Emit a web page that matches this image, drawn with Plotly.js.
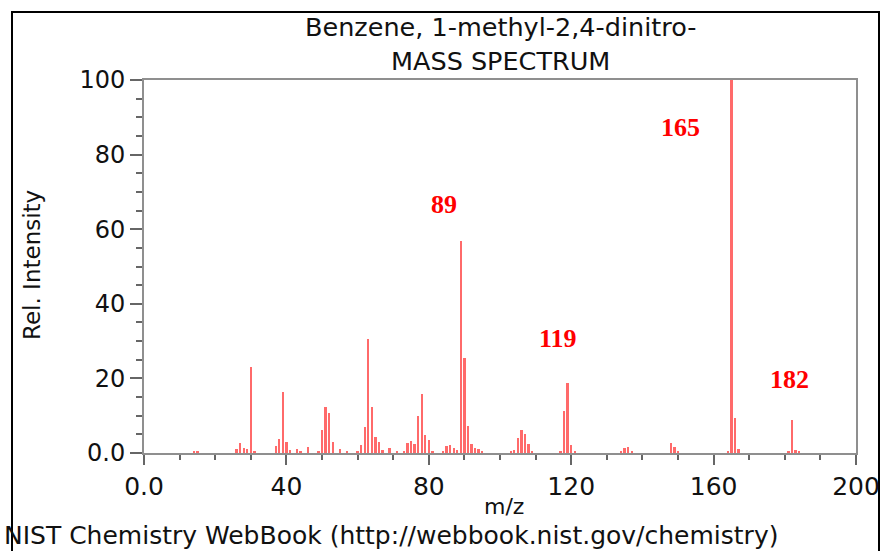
<!DOCTYPE html>
<html>
<head>
<meta charset="utf-8">
<script src="https://cdn.plot.ly/plotly-3.0.1.min.js"></script>
<style>
html,body{margin:0;padding:0;background:#fff;}
#chart{width:881px;height:551px;}
</style>
</head>
<body>
<div id="chart"></div>
<script>
// m/z values and relative intensities
const mz = [14, 15, 26, 27, 28, 29, 30, 31, 37, 38, 39, 40, 41, 43, 44, 46, 49, 50, 51, 52, 53, 55, 57, 60,
  61, 62, 63, 64, 65, 66, 67, 69, 71, 73, 74, 75, 76, 77, 78, 79, 80, 81, 84, 85, 86, 87, 88,
  89, 90, 91, 92, 93, 94, 95, 103, 104, 105, 106, 107, 108, 109, 117, 118, 119, 120, 121,
  134, 135, 136, 137, 148, 149, 150, 164, 165, 166, 167, 181, 182, 183, 184];
const intensity = [0.3, 0.5, 1.2, 2.7, 1.3, 1.1, 23.0, 0.6, 1.9, 3.7, 16.4, 3.0, 0.7, 1.2, 0.5, 1.5, 0.4, 6.2, 12.4, 10.8, 2.9, 1.2, 0.4, 0.5,
  2.1, 7.0, 30.5, 12.4, 4.3, 3.0, 0.8, 1.3, 0.5, 0.6, 2.7, 3.2, 2.4, 9.9, 15.7, 4.8, 3.4, 0.6, 0.5, 2.0, 2.1, 1.3, 0.8,
  56.9, 25.4, 7.3, 2.3, 1.3, 1.2, 0.5, 0.5, 0.8, 3.9, 6.2, 5.1, 2.4, 0.5, 0.4, 11.3, 18.9, 2.1, 0.5,
  0.5, 1.4, 1.7, 0.6, 2.8, 1.6, 0.6, 0.6, 100, 9.3, 1.0, 0.4, 8.8, 0.8, 0.3];

// labelled peaks and where their labels sit
const peakLabels = ['89', '165', '119', '182'];
const labelX = [84.4, 150.8, 116.2, 181.4];
const labelY = [66.5, 87.4, 30.8, 19.6];

const xTickVals = [0, 40, 80, 120, 160, 200];
const xTickText = ['0.0', '40', '80', '120', '160', '200'];
const yTickVals = [0, 20, 40, 60, 80, 100];
const yTickText = ['0.0', '20', '40', '60', '80', '100'];

const titleLine1 = 'Benzene, 1-methyl-2,4-dinitro-';
const titleLine2 = 'MASS SPECTRUM';
const xTitle = 'm/z';
const yTitle = 'Rel. Intensity';
const footer = 'NIST Chemistry WebBook (http://webbook.nist.gov/chemistry)';

const sans = 'DejaVu Sans, sans-serif';
const txt = '#111';

const trace = {
  type: 'bar',
  x: mz,
  y: intensity,
  width: 0.65,
  marker: {color: '#ff6a6a', line: {width: 0}},
  hoverinfo: 'x+y'
};

const annotations = [
  {text: titleLine1, xref: 'paper', yref: 'paper', x: 0.5, y: (453 - 27) / 373, xanchor: 'center', yanchor: 'middle', showarrow: false, font: {family: sans, size: 25.5, color: txt}},
  {text: titleLine2, xref: 'paper', yref: 'paper', x: 0.5, y: (453 - 61) / 373, xanchor: 'center', yanchor: 'middle', showarrow: false, font: {family: sans, size: 25.5, color: txt}},
  {text: xTitle, xref: 'paper', yref: 'paper', x: (504 - 144) / 712, y: (453 - 506) / 373, xanchor: 'center', yanchor: 'middle', showarrow: false, font: {family: sans, size: 22, color: txt}},
  {text: yTitle, xref: 'paper', yref: 'paper', x: (32 - 144) / 712, y: (453 - 265) / 373, xanchor: 'center', yanchor: 'middle', textangle: -90, showarrow: false, font: {family: sans, size: 23, color: txt}},
  {text: footer, xref: 'paper', yref: 'paper', x: (2 - 144) / 712, y: (453 - 535) / 373, xanchor: 'left', yanchor: 'middle', showarrow: false, font: {family: sans, size: 25, color: txt}}
];
for (let i = 0; i < peakLabels.length; i++) {
  annotations.push({
    text: '<b>' + peakLabels[i] + '</b>', x: labelX[i], y: labelY[i], xref: 'x', yref: 'y',
    xanchor: 'center', yanchor: 'middle', showarrow: false,
    font: {family: 'Liberation Serif, serif', size: 26, color: '#ff0000'}
  });
}

const layout = {
  width: 881, height: 551,
  margin: {l: 144, r: 25, t: 80, b: 98},
  paper_bgcolor: '#ffffff', plot_bgcolor: '#ffffff',
  showlegend: false,
  bargap: 0,
  xaxis: {
    range: [0, 200], tickvals: xTickVals, ticktext: xTickText,
    ticks: 'outside', ticklen: 10, tickwidth: 1.5, tickcolor: '#666',
    minor: {dtick: 10, tick0: 0, ticks: 'outside', ticklen: 5, tickwidth: 1.5, tickcolor: '#666'},
    showline: true, linecolor: '#8f8f8f', linewidth: 2, mirror: true,
    showgrid: false, zeroline: false, fixedrange: true,
    tickfont: {family: sans, size: 25, color: txt}
  },
  yaxis: {
    range: [0, 100], tickvals: yTickVals, ticktext: yTickText,
    ticks: 'outside', ticklen: 12, tickwidth: 1.5, tickcolor: '#666',
    minor: {dtick: 5, tick0: 0, ticks: 'outside', ticklen: 6, tickwidth: 1.5, tickcolor: '#666'},
    showline: true, linecolor: '#8f8f8f', linewidth: 2, mirror: true,
    showgrid: false, zeroline: false, fixedrange: true,
    tickfont: {family: sans, size: 24, color: txt}
  },
  annotations: annotations,
  shapes: [{
    type: 'rect', xref: 'paper', yref: 'paper',
    x0: (12 - 144) / 712, x1: (879 - 144) / 712,
    y0: (453 - 600) / 373, y1: (453 - 12) / 373,
    line: {color: '#000', width: 2}, fillcolor: 'rgba(0,0,0,0)', layer: 'below'
  }]
};

Plotly.newPlot('chart', [trace], layout, {displayModeBar: false});
</script>
</body>
</html>
